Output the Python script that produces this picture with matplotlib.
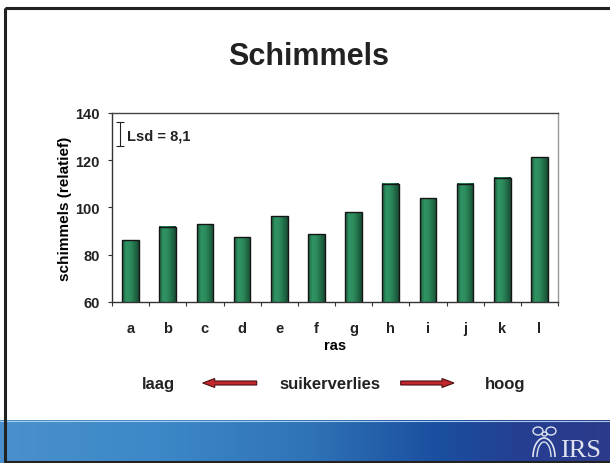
import numpy as np
import matplotlib
matplotlib.use('Agg')
import matplotlib.pyplot as plt
from matplotlib.colors import LinearSegmentedColormap
from matplotlib.patches import Rectangle, FancyArrow, Arc, Ellipse

# ---- data ----
categories = ['a', 'b', 'c', 'd', 'e', 'f', 'g', 'h', 'i', 'j', 'k', 'l']
values = [86.2, 91.9, 92.9, 87.4, 96.4, 88.6, 98.0, 110.0, 103.9, 110.0, 112.5, 121.2]
y_ticks = [60, 80, 100, 120, 140]
title = 'Schimmels'
x_label = 'ras'
y_label = 'schimmels (relatief)'
lsd_label = 'Lsd = 8,1'
bottom_labels = ['laag', 'suikerverlies', 'hoog']

plt.rcParams['font.family'] = ['Liberation Sans', 'DejaVu Sans']
plt.rcParams['font.weight'] = 'bold'
plt.rcParams['text.color'] = '#222222'
plt.rcParams['xtick.color'] = '#333333'
plt.rcParams['ytick.color'] = '#333333'
plt.rcParams['xtick.labelcolor'] = '#222222'
plt.rcParams['ytick.labelcolor'] = '#222222'

fig = plt.figure(figsize=(6.1, 4.64), dpi=100)
fig.patch.set_facecolor('white')

# ---- slide decoration (pixel coordinates) ----
bg = fig.add_axes([0, 0, 1, 1], zorder=0)
bg.set_xlim(0, 610)
bg.set_ylim(464, 0)
bg.axis('off')

grad = np.linspace(0, 1, 256).reshape(1, -1)
band_cmap = LinearSegmentedColormap.from_list(
    'band', [(0, '#4a90cc'), (0.25, '#3d88c8'), (0.5, '#3074b8'),
             (0.72, '#1a4f9f'), (0.85, '#253f92'), (1, '#2c3a8a')])
bg.imshow(grad, extent=[0, 610, 464, 421], cmap=band_cmap, aspect='auto', zorder=1)
bg.plot([0, 610], [421.5, 421.5], color='#a8cbea', lw=0.8, zorder=2)
bg.add_patch(Rectangle((4.5, 8.5), 620, 454, fill=False, lw=2.2, ec='#222222', zorder=5))

bg.text(308.5, 65, title, fontsize=22, ha='center', va='baseline', color='#222222')

bg.text(158.5, 389, bottom_labels[0], fontsize=12, ha='center', va='baseline')
bg.text(330, 389, bottom_labels[1], fontsize=12, ha='center', va='baseline')
bg.text(505.5, 389, bottom_labels[2], fontsize=12, ha='center', va='baseline')
arrow_kw = dict(width=4, head_width=9, head_length=12, length_includes_head=True,
                fc='#c4262e', ec='#4a1010', lw=0.8, zorder=3)
bg.add_patch(FancyArrow(256.7, 384, -54, 0, **arrow_kw))
bg.add_patch(FancyArrow(400.7, 384, 53.3, 0, **arrow_kw))

# IRS logo
logo_c = '#dfe3f0'
bg.text(560, 457, 'IRS', family=['Liberation Serif', 'DejaVu Serif'], fontsize=19,
        weight='normal', color=logo_c, va='baseline', zorder=3)
bg.add_patch(Arc((544, 458), 22, 38, theta1=180, theta2=360, color=logo_c, lw=1.2, zorder=3))
bg.add_patch(Arc((544, 458), 14, 30, theta1=180, theta2=360, color=logo_c, lw=1.0, zorder=3))
bg.add_patch(Ellipse((538, 432), 10, 8, fill=False, ec=logo_c, lw=1.0, zorder=3))
bg.add_patch(Ellipse((551, 432), 10, 8, fill=False, ec=logo_c, lw=1.0, zorder=3))
bg.add_patch(Ellipse((544.5, 435), 5, 4, fill=False, ec=logo_c, lw=1.0, zorder=3))

# ---- chart ----
ax = fig.add_axes([112 / 610, 161 / 464, 446 / 610, 189 / 464], zorder=2)
ax.set_facecolor('white')
x = np.arange(len(categories))
y0, y1 = y_ticks[0], y_ticks[-1]

bars = ax.bar(x, values, width=0.45, color='none', edgecolor='#151515', lw=1.0, zorder=3)
bar_cmap = LinearSegmentedColormap.from_list(
    'bar', ['#1c5a3b', '#2f9464', '#2d8c5d', '#226f49', '#174c33'])
bgrad = np.linspace(0, 1, 64).reshape(1, -1)
for b in bars:
    ax.imshow(bgrad, extent=[b.get_x(), b.get_x() + b.get_width(), y0, b.get_height()],
              cmap=bar_cmap, aspect='auto', zorder=2)

ax.set_xlim(-0.5, len(categories) - 0.5)
ax.set_ylim(y0, y1)
ax.set_yticks(y_ticks)

ax.set_xticks(np.arange(len(categories) + 1) - 0.5)
ax.set_xticklabels([])
ax.set_xticks(x, minor=True)
ax.set_xticklabels(categories, minor=True)
ax.tick_params(axis='x', which='major', direction='out', length=3, width=0.8)
ax.tick_params(axis='x', which='minor', length=0, pad=13.5, labelsize=10.5)
ax.tick_params(axis='y', direction='out', length=2.9, width=0.8, pad=5.9, labelsize=10.5)

for s, c in [('left', '#333333'), ('bottom', '#333333'), ('top', '#444444'), ('right', '#999999')]:
    ax.spines[s].set_color(c)
    ax.spines[s].set_linewidth(1.0)

ax.set_ylabel(y_label, fontsize=11, fontweight='bold')
ax.yaxis.label.set_va('center')
ax.yaxis.set_label_coords(-0.105, 0.5)
ax.set_xlabel(x_label, fontsize=10.5, fontweight='bold')
ax.xaxis.label.set_va('baseline')
ax.xaxis.set_label_coords(0.5, -0.2487)

# Lsd bracket annotation
ax.errorbar(-0.285, 131.25, yerr=5.1, fmt='none', ecolor='#222222', elinewidth=0.8,
            capsize=3.2, capthick=0.8, zorder=4)
ax.text(-0.105, 128.7, lsd_label, fontsize=10.5, va='baseline', ha='left')

fig.savefig('out.png', dpi=100)
